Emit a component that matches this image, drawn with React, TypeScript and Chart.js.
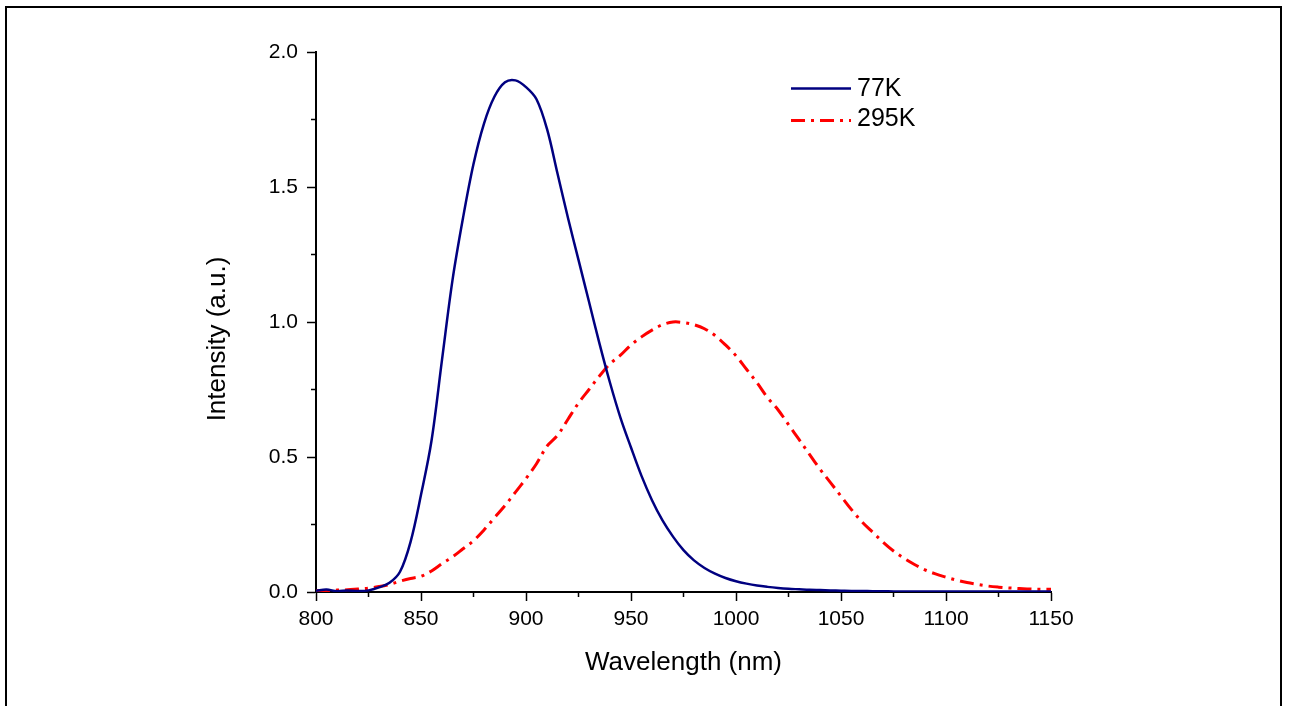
import React, { useEffect, useRef } from "react";
import { Chart, registerables } from "chart.js";

Chart.register(...registerables);

const wavelengths = [
  800, 805, 810, 815, 820, 825, 830, 835, 840, 845, 850, 855, 860, 865, 870, 875, 880, 885, 890, 895,
  900, 905, 910, 915, 920, 925, 930, 935, 940, 945, 950, 955, 960, 965, 970, 975, 980, 985, 990, 995,
  1000, 1005, 1010, 1015, 1020, 1025, 1030, 1035, 1040, 1045, 1050, 1055, 1060, 1065, 1070, 1075,
  1080, 1085, 1090, 1095, 1100, 1105, 1110, 1115, 1120, 1125, 1130, 1135, 1140, 1145, 1150,
];

const intensity77K = [
  0.005, 0.009, 0.003, 0.006, 0.004, 0.006, 0.017, 0.034, 0.075, 0.185, 0.36, 0.56, 0.86, 1.155, 1.385,
  1.585, 1.735, 1.835, 1.888, 1.895, 1.87, 1.825, 1.715, 1.55, 1.385, 1.23, 1.075, 0.92, 0.775, 0.645,
  0.535, 0.43, 0.34, 0.265, 0.205, 0.155, 0.117, 0.089, 0.068, 0.052, 0.04, 0.031, 0.024, 0.019, 0.015,
  0.012, 0.01, 0.008, 0.007, 0.006, 0.005, 0.004, 0.004, 0.003, 0.003, 0.002, 0.002, 0.002, 0.002,
  0.002, 0.002, 0.002, 0.002, 0.002, 0.002, 0.002, 0.002, 0.002, 0.002, 0.002, 0.002,
];

const intensity295K = [
  0.005, 0.004, 0.007, 0.008, 0.011, 0.014, 0.02, 0.028, 0.04, 0.05, 0.058, 0.078, 0.105, 0.13, 0.16,
  0.19, 0.23, 0.275, 0.32, 0.37, 0.42, 0.475, 0.54, 0.58, 0.64, 0.7, 0.75, 0.8, 0.845, 0.877, 0.915,
  0.945, 0.97, 0.99, 1.0, 0.998, 0.99, 0.975, 0.95, 0.915, 0.875, 0.825, 0.775, 0.72, 0.675, 0.62,
  0.565, 0.51, 0.455, 0.405, 0.355, 0.305, 0.26, 0.222, 0.185, 0.152, 0.125, 0.102, 0.082, 0.067,
  0.055, 0.044, 0.035, 0.028, 0.022, 0.018, 0.015, 0.013, 0.011, 0.01, 0.01,
];

const seriesLabels = ["77K", "295K"];
const xMinorTicks = [825, 875, 925, 975, 1025, 1075, 1125];
const yMinorTicks = [0.25, 0.75, 1.25, 1.75];
const xTitle = "Wavelength (nm)";
const yTitle = "Intensity (a.u.)";

const FONT = '"Liberation Sans", Arial, sans-serif';

const minorTicksPlugin = {
  id: "minorTicks",
  afterDraw(chart: any) {
    const ctx = chart.ctx;
    const xs = chart.scales.x;
    const ys = chart.scales.y;
    const area = chart.chartArea;
    ctx.save();
    ctx.strokeStyle = "#000";
    ctx.lineWidth = 1.5;
    ctx.beginPath();
    xMinorTicks.forEach((v) => {
      const px = xs.getPixelForValue(v);
      ctx.moveTo(px, area.bottom);
      ctx.lineTo(px, area.bottom + 5);
    });
    yMinorTicks.forEach((v) => {
      const py = ys.getPixelForValue(v);
      ctx.moveTo(area.left, py);
      ctx.lineTo(area.left - 5, py);
    });
    ctx.stroke();
    ctx.restore();
  },
};

const legendAndTitlePlugin = {
  id: "insetLegend",
  afterDraw(chart: any) {
    const ctx = chart.ctx;
    ctx.save();
    chart.data.datasets.forEach((ds: any, i: number) => {
      const lineY = i === 0 ? 88.5 : 120.5;
      const textY = i === 0 ? 89 : 119;
      ctx.strokeStyle = ds.borderColor;
      ctx.lineWidth = ds.borderWidth;
      ctx.setLineDash(ds.borderDash || []);
      ctx.beginPath();
      ctx.moveTo(791, lineY);
      ctx.lineTo(851, lineY);
      ctx.stroke();
      ctx.setLineDash([]);
      ctx.fillStyle = "#000";
      ctx.font = `25px ${FONT}`;
      ctx.textAlign = "left";
      ctx.textBaseline = "middle";
      ctx.fillText(ds.label, 857, textY);
    });
    // y-axis title
    ctx.translate(218, 339);
    ctx.rotate(-Math.PI / 2);
    ctx.font = `26px ${FONT}`;
    ctx.fillStyle = "#000";
    ctx.textAlign = "center";
    ctx.textBaseline = "middle";
    ctx.fillText(yTitle, 0, 0);
    ctx.restore();
  },
};

export default function App() {
  const canvasRef = useRef<HTMLCanvasElement | null>(null);

  useEffect(() => {
    if (!canvasRef.current) return;
    const chart = new Chart(canvasRef.current, {
      type: "line",
      data: {
        datasets: [
          {
            label: seriesLabels[0],
            data: wavelengths.map((w, i) => ({ x: w, y: intensity77K[i] })),
            borderColor: "#000080",
            borderWidth: 2.5,
            pointRadius: 0,
            tension: 0.35,
            fill: false,
          },
          {
            label: seriesLabels[1],
            data: wavelengths.map((w, i) => ({ x: w, y: intensity295K[i] })),
            borderColor: "#ff0000",
            borderWidth: 3,
            borderDash: [14, 6, 3, 6],
            pointRadius: 0,
            tension: 0.35,
            fill: false,
          },
        ],
      },
      options: {
        animation: false,
        responsive: false,
        layout: { padding: { left: 0, top: 52, right: 238, bottom: 28 } },
        plugins: {
          legend: { display: false },
          tooltip: { enabled: false },
        },
        scales: {
          x: {
            type: "linear",
            min: 800,
            max: 1150,
            afterFit: (s: any) => {
              s.height = 86;
            },
            ticks: {
              stepSize: 50,
              color: "#000",
              font: { family: FONT, size: 21 },
              padding: 6,
              maxRotation: 0,
              callback: (v: any) => String(v),
            },
            grid: {
              display: true,
              drawOnChartArea: false,
              drawTicks: true,
              tickLength: 9,
              tickColor: "#000",
              tickWidth: 1.5,
            },
            border: { display: true, color: "#000", width: 2 },
            title: {
              display: true,
              text: xTitle,
              color: "#000",
              font: { family: FONT, size: 26 },
              padding: 0,
            },
          },
          y: {
            type: "linear",
            min: 0,
            max: 2,
            afterFit: (s: any) => {
              s.width = 316;
            },
            ticks: {
              stepSize: 0.5,
              color: "#000",
              font: { family: FONT, size: 21 },
              padding: 9,
              callback: (v: any) => Number(v).toFixed(1),
            },
            grid: {
              display: true,
              drawOnChartArea: false,
              drawTicks: true,
              tickLength: 9,
              tickColor: "#000",
              tickWidth: 1.5,
            },
            border: { display: true, color: "#000", width: 2 },
          },
        },
      },
      plugins: [minorTicksPlugin, legendAndTitlePlugin],
    });
    return () => chart.destroy();
  }, []);

  return (
    <div
      style={{
        position: "fixed",
        left: 0,
        top: 0,
        width: 1289,
        height: 706,
        background: "#fff",
        overflow: "hidden",
      }}
    >
      <canvas ref={canvasRef} width={1289} height={706} style={{ display: "block" }} />
      <div
        style={{
          position: "absolute",
          left: 5,
          top: 6,
          width: 1277,
          height: 720,
          border: "2px solid #000",
          boxSizing: "border-box",
          pointerEvents: "none",
        }}
      />
    </div>
  );
}
